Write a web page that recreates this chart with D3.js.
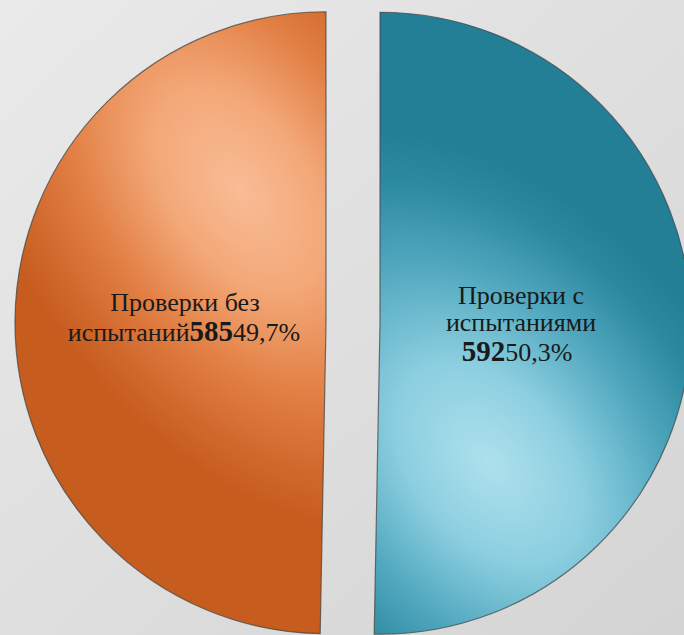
<!DOCTYPE html>
<html><head><meta charset="utf-8">
<script src="https://cdn.jsdelivr.net/npm/d3@7"></script>
<style>html,body{margin:0;padding:0;overflow:hidden;}svg{display:block;}</style>
</head><body>
<svg id="chart" width="684" height="635"></svg>
<script>
const categories = ["Проверки с испытаниями", "Проверки без испытаний"];
const values = [592, 585];
const percents = ["50,3%", "49,7%"];
const labelLines = [["Проверки с", "испытаниями"], ["Проверки без", "испытаний"]];

const W = 684, H = 635;
const cx = 353, cy = 323, R = 311, explode = 27;
const svg = d3.select("#chart");
const defs = svg.append("defs");

const bg = defs.append("linearGradient").attr("id","bg").attr("x1",0).attr("y1",0).attr("x2",1).attr("y2",1);
bg.append("stop").attr("offset","0%").attr("stop-color","#eaeaea");
bg.append("stop").attr("offset","100%").attr("stop-color","#d4d4d4");
svg.append("rect").attr("width",W).attr("height",H).attr("fill","url(#bg)");

// elliptical radial gradients, in each slice's own user space (relative to slice centre)
const gradSpecs = [
  {id:"gTeal", c:[110,140], rot:50, sc:[380,250],
   stops:[[0,"#aee0ec"],[0.3,"#8ccfe0"],[0.6,"#50a7be"],[0.85,"#2b89a0"],[1,"#237f96"]]},
  {id:"gOrange", c:[-86,-133], rot:55, sc:[380,230],
   stops:[[0,"#f9bc95"],[0.3,"#f3a878"],[0.6,"#e28045"],[0.85,"#d0682c"],[1,"#c75c1f"]]}
];
gradSpecs.forEach(g => {
  const rg = defs.append("radialGradient").attr("id",g.id).attr("gradientUnits","userSpaceOnUse")
    .attr("cx",0).attr("cy",0).attr("r",1).attr("fx",0).attr("fy",0)
    .attr("gradientTransform",`translate(${g.c[0]},${g.c[1]}) rotate(${g.rot}) scale(${g.sc[0]},${g.sc[1]})`);
  g.stops.forEach(s => rg.append("stop").attr("offset",s[0]).attr("stop-color",s[1]));
});

const pie = d3.pie().sort(null).value(d => d);
const arcs = pie(values);
const arc = d3.arc().innerRadius(0).outerRadius(R);
const g = svg.append("g").attr("transform",`translate(${cx},${cy})`);

arcs.forEach((a,i) => {
  const mid = (a.startAngle + a.endAngle)/2;
  const dx = Math.sin(mid)*explode, dy = -Math.cos(mid)*explode;
  const sg = g.append("g").attr("transform",`translate(${dx},${dy})`);
  sg.append("path").attr("d",arc(a)).attr("fill",`url(#${gradSpecs[i].id})`)
    .attr("stroke","#3e3e3e").attr("stroke-opacity",0.7).attr("stroke-width",1.2);
});

// labels
const font = "Liberation Serif, Times New Roman, DejaVu Serif, serif";
const fs = 26, fsB = 29;
const tR = svg.append("text").attr("font-family",font).attr("fill","#1a1a1a").attr("text-anchor","middle");
tR.append("tspan").attr("x",521).attr("y",304).attr("font-size",fs).text(labelLines[0][0]);
tR.append("tspan").attr("x",521).attr("y",331).attr("font-size",fs).text(labelLines[0][1]);
const l3 = tR.append("tspan").attr("x",517).attr("y",361);
l3.append("tspan").attr("font-weight","bold").attr("font-size",fsB).text(values[0]);
l3.append("tspan").attr("font-size",fs).text(percents[0]);

const tL = svg.append("text").attr("font-family",font).attr("fill","#1a1a1a").attr("text-anchor","middle");
tL.append("tspan").attr("x",185).attr("y",311).attr("font-size",fs).text(labelLines[1][0]);
const l2 = tL.append("tspan").attr("x",184).attr("y",341);
l2.append("tspan").attr("font-size",fs).text(labelLines[1][1]);
l2.append("tspan").attr("font-weight","bold").attr("font-size",fsB).text(values[1]);
l2.append("tspan").attr("font-size",fs).text(percents[1]);
</script>
</body></html>
